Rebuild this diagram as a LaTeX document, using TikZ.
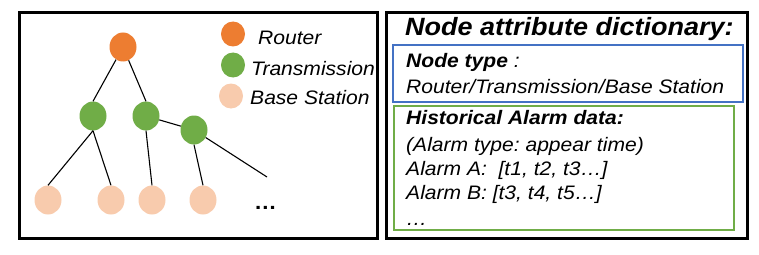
\documentclass[tikz,border=0pt]{standalone}
\usepackage{fontspec}
\setmainfont[FakeStretch=1.08]{Liberation Sans}
\usepackage{tikz}
\usetikzlibrary{shapes.geometric,positioning}
\definecolor{routerorange}{HTML}{ED7D31}
\definecolor{transgreen}{HTML}{70AD47}
\definecolor{stationpeach}{HTML}{F8CBAD}
\definecolor{typeblue}{HTML}{4472C4}
\frenchspacing

\begin{document}
\begin{tikzpicture}[x=1pt,y=-1pt]
  \tikzstyle{frame}=[draw=black,line width=3pt]
  \tikzstyle{dev}=[ellipse,minimum width=27pt,minimum height=29pt,inner sep=0pt]
  \tikzstyle{key}=[ellipse,minimum width=24pt,minimum height=25pt,inner sep=0pt]
  \tikzstyle{link}=[draw=black,line width=1.1pt]
  \tikzstyle{txt}=[anchor=base west,inner sep=0pt,font=\fontsize{19.5}{23}\selectfont\itshape]
  \useasboundingbox (0,0) rectangle (759,254);

  % topology
  \draw[frame] (19,13) rectangle (377,238);
  \node[dev,fill=routerorange] (r) at (123,47) {};
  \node[dev,fill=transgreen] (t1) at (93,116) {};
  \node[dev,fill=transgreen] (t2) at (146,116) {};
  \node[dev,fill=transgreen] (t3) at (194,130) {};
  \node[dev,fill=stationpeach] (b1) at (48,200) {};
  \node[dev,fill=stationpeach] (b2) at (111,200) {};
  \node[dev,fill=stationpeach] (b3) at (152,200) {};
  \node[dev,fill=stationpeach] (b4) at (203,200) {};
  \coordinate (open) at (267,177);
  \draw[link] (r) -- (t1.north);
  \draw[link] (r) -- (t2.north);
  \draw[link] (t1.south) -- (b1.north);
  \draw[link] (t1.south) -- (b2.north);
  \draw[link] (t2.south) -- (b3.north);
  \draw[link] (t2) -- (t3);
  \draw[link] (t3.south) -- (b4.north);
  \draw[link] (t3) -- (open);
  \node[txt,font=\fontsize{21}{25}\selectfont\bfseries] (more) at (254,209) {…};

  % legend
  \node[key,fill=routerorange] (k1) at (233,34) {};
  \node[key,fill=transgreen] (k2) at (233,65) {};
  \node[key,fill=stationpeach] (k3) at (231,96) {};
  \node[txt] (k1l) at (258,45) {Router};
  \node[txt] (k2l) at (251,75) {Transmission};
  \node[txt] (k3l) at (250,104) {Base Station};

  % attribute dictionary
  \draw[frame] (386,13) rectangle (747,238);
  \draw[draw=typeblue,line width=2pt] (393,45) rectangle (743,102);
  \draw[draw=transgreen,line width=2pt] (394,106) rectangle (734,230);
  \node[txt,font=\fontsize{25}{30}\selectfont\bfseries\itshape] (title) at (405,36) {Node attribute dictionary:};
  \node[txt] (a1) at (406,67) {\textbf{Node type} :};
  \node[txt] (a2) at (406,93) {Router/Transmission/Base Station};
  \node[txt] (h1) at (406,124) {\textbf{Historical Alarm data:}};
  \node[txt] (h2) at (406,151) {(Alarm type: appear time)};
  \node[txt] (h3) at (406,175) {Alarm A:~~[t1, t2, t3…]};
  \node[txt] (h4) at (406,199) {Alarm B: [t3, t4, t5…]};
  \node[txt] (h5) at (406,225) {…};
\end{tikzpicture}
\end{document}
